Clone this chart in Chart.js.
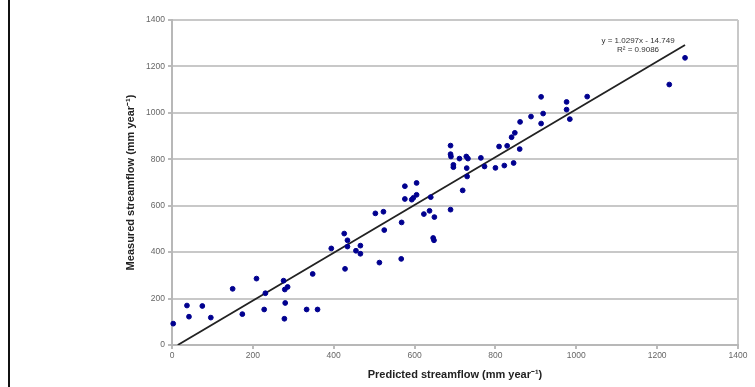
<!DOCTYPE html>
<html>
<head>
<meta charset="utf-8">
<script src="https://cdn.jsdelivr.net/npm/chart.js@4.4.0/dist/chart.umd.min.js"></script>
<style>
  html, body { margin: 0; padding: 0; background: #fff; }
  #wrap { position: relative; width: 755px; height: 387px; }
  #frame { position: absolute; left: 8px; top: 0; width: 2px; height: 387px; background: #111; }
</style>
</head>
<body>
<div id="wrap">
  <canvas id="myChart" width="755" height="387"></canvas>
  <div id="frame"></div>
</div>
<script>
// predicted vs measured streamflow (mm/year)
const predicted = [3, 37, 42, 75, 96, 150, 174, 209, 231, 228, 276, 279, 286, 280, 278, 333, 360, 348,
  394, 426, 434, 434, 428, 455, 466, 466, 503, 513, 523, 525, 568, 567, 576, 593, 597, 605, 640, 623,
  637, 649, 646, 648, 689, 719, 576, 605, 689, 689, 690, 696, 696, 711, 728, 732, 729, 730, 764, 773,
  800, 822, 845, 809, 829, 840, 848, 860, 913, 976, 976, 984, 1027, 918, 913, 888, 861, 1230, 1269];
const measured = [92, 170, 122, 168, 118, 242, 133, 286, 223, 153, 277, 239, 250, 181, 113, 153, 153, 306,
  416, 480, 451, 424, 328, 406, 428, 393, 567, 355, 574, 495, 528, 371, 629, 626, 634, 647, 637, 564,
  578, 551, 461, 451, 583, 666, 684, 698, 859, 822, 812, 776, 766, 803, 812, 803, 762, 726, 806, 769,
  763, 773, 784, 855, 858, 895, 914, 844, 1069, 1047, 1014, 973, 1070, 997, 954, 984, 961, 1122, 1237];

const slope = 1.0297;
const intercept = -14.749;
const rSquared = 0.9086;
const axisTicks = [0, 200, 400, 600, 800, 1000, 1200, 1400];

const points = predicted.map((p, i) => ({ x: p, y: measured[i] }));
const xEnd = Math.max(...predicted);
const trend = [
  { x: -intercept / slope, y: 0 },
  { x: xEnd, y: slope * xEnd + intercept }
];

const equationLabel = {
  id: 'equationLabel',
  afterDatasetsDraw(chart) {
    const { ctx, scales } = chart;
    const px = scales.x.getPixelForValue(trend[1].x);
    const py = scales.y.getPixelForValue(trend[1].y);
    ctx.save();
    ctx.fillStyle = '#333';
    ctx.font = '8px "Liberation Sans", Arial, sans-serif';
    ctx.textAlign = 'center';
    ctx.textBaseline = 'middle';
    const sign = intercept < 0 ? ' - ' : ' + ';
    ctx.fillText('y = ' + slope.toFixed(4) + 'x' + sign + Math.abs(intercept).toFixed(3), px - 47, py - 4);
    ctx.fillText('R\u00b2 = ' + rSquared.toFixed(4), px - 47, py + 5);
    ctx.restore();
  }
};

const tickFont = { family: '"Liberation Sans", Arial, sans-serif', size: 8.5 };
const titleFont = { family: '"Liberation Sans", Arial, sans-serif', size: 11, weight: 'bold' };
const grey = '#c8c8c8';

const ctx = document.getElementById('myChart').getContext('2d');
const myChart = new Chart(ctx, {
  type: 'scatter',
  data: {
    datasets: [{
      data: points,
      backgroundColor: '#00008f',
      borderColor: '#00008f',
      pointRadius: 2.4,
      pointHoverRadius: 2.4,
      clip: false
    }, {
      type: 'line',
      data: trend,
      borderColor: '#222',
      borderWidth: 1.8,
      pointRadius: 0,
      fill: false
    }]
  },
  options: {
    responsive: false,
    animation: false,
    layout: { padding: { left: 0, right: 17, top: 20, bottom: 0 } },
    plugins: { legend: { display: false }, tooltip: { enabled: false } },
    scales: {
      x: {
        type: 'linear',
        min: axisTicks[0],
        max: axisTicks[axisTicks.length - 1],
        afterBuildTicks: s => { s.ticks = axisTicks.map(v => ({ value: v })); },
        afterFit: s => { s.height = 42; },
        grid: {
          color: c => (c.tick && c.tick.value === 1400 ? grey : 'transparent'),
          tickColor: '#bbb',
          lineWidth: 2,
          tickLength: 4
        },
        border: { display: true, color: '#b8b8b8', width: 2 },
        ticks: { color: '#666', font: tickFont, padding: 2, maxRotation: 0, callback: v => String(v) },
        title: {
          display: true,
          text: 'Predicted streamflow (mm year\u207b\u00b9)',
          color: '#222',
          font: titleFont,
          padding: { top: 0, bottom: 5 }
        }
      },
      y: {
        type: 'linear',
        min: axisTicks[0],
        max: axisTicks[axisTicks.length - 1],
        afterBuildTicks: s => { s.ticks = axisTicks.map(v => ({ value: v })); },
        afterFit: s => { s.width = 172; },
        grid: { color: grey, tickColor: '#bbb', lineWidth: 2, tickLength: 4 },
        border: { display: true, color: '#b8b8b8', width: 2 },
        ticks: { color: '#666', font: tickFont, padding: 3, callback: v => String(v) },
        title: {
          display: true,
          text: 'Measured streamflow (mm year\u207b\u00b9)',
          color: '#222',
          font: titleFont,
          padding: { top: 124, bottom: 0 }
        }
      }
    }
  },
  plugins: [equationLabel]
});
</script>
</body>
</html>
